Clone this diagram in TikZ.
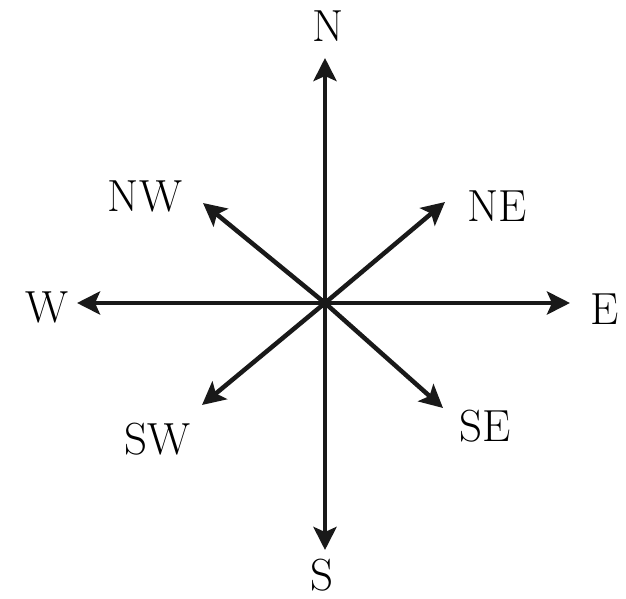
\documentclass[tikz,border=0pt]{standalone}
\usetikzlibrary{arrows.meta}
\tikzset{x=1pt, y=-1pt,
    every node/.append style={font=\fontsize{45}{45}\selectfont, inner sep=0pt},
    ray/.style={line width=4.5pt, draw=black!90, -{Stealth[length=23pt, width=23pt, inset=5pt]}}}

\begin{document}
\begin{tikzpicture}
    \useasboundingbox (0,0) rectangle (626,599);
    \coordinate (o) at (325,303);
    \foreach \dir/\tx/\ty/\lx/\ly in {N/325/58/328/26, E/570/303/605/309,
            S/325/550/322/575, W/77/303/47/307, NE/445/202/497/206,
            NW/203/203/145/196, SW/202/405/157/439, SE/443/408/485/426}{
        \coordinate (tip\dir) at (\tx,\ty);
        \node (\dir) at (\lx,\ly) {\dir};
        \draw[ray] (o) -- (tip\dir);
    }
\end{tikzpicture}
\end{document}
